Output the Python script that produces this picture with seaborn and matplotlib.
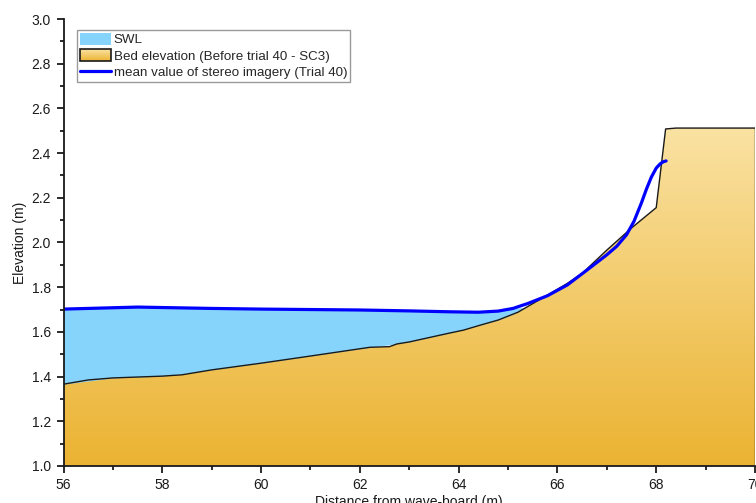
import numpy as np
import matplotlib
matplotlib.use("Agg")
import matplotlib.pyplot as plt
from matplotlib.patches import Polygon, Rectangle
from matplotlib.lines import Line2D
from matplotlib.colors import LinearSegmentedColormap
from matplotlib.legend_handler import HandlerBase
import seaborn as sns

# Bed profile measured before trial 40 (SC3)
bed_x = [56.0, 56.5, 57.0, 58.0, 58.4, 59.0, 60.0, 61.0, 62.2, 62.6, 62.75, 63.0,
         63.8, 64.1, 64.45, 64.8, 65.2, 65.8, 66.2, 66.5, 67.0, 67.5, 68.0,
         68.19, 68.4, 70.0]
bed_y = [1.366, 1.385, 1.394, 1.402, 1.408, 1.43, 1.46, 1.492, 1.531, 1.534, 1.546, 1.555,
         1.594, 1.608, 1.631, 1.653, 1.688, 1.765, 1.817, 1.862, 1.966, 2.065, 2.156,
         2.508, 2.512, 2.512]

# Mean water surface from stereo imagery (trial 40)
stereo_x = [56.0, 57.0, 57.5, 58.0, 59.0, 60.0, 61.0, 62.0, 63.0, 63.8, 64.4, 64.8,
            65.1, 65.4, 65.8, 66.2, 66.6, 67.0, 67.2, 67.4, 67.55, 67.7, 67.8,
            67.9, 68.0, 68.08, 68.14, 68.2]
stereo_y = [1.702, 1.708, 1.711, 1.709, 1.705, 1.702, 1.700, 1.698, 1.694, 1.690, 1.688,
            1.693, 1.705, 1.727, 1.762, 1.810, 1.877, 1.945, 1.983, 2.035, 2.095,
            2.177, 2.238, 2.292, 2.333, 2.352, 2.361, 2.365]

# Still water level
swl_level = 1.711

x_ticks = [56, 58, 60, 62, 64, 66, 68, 70]
y_ticks = [1.0, 1.2, 1.4, 1.6, 1.8, 2.0, 2.2, 2.4, 2.6, 2.8, 3.0]

SWL_COLOR = "#86d4fc"
SAND_TOP = "#fae2a2"
SAND_BOTTOM = "#ebb332"
LINE_BLUE = "#0000ff"

sns.set_theme(style="ticks")
plt.rcParams["font.family"] = ["Liberation Sans", "DejaVu Sans"]
plt.rcParams["axes.linewidth"] = 1.3

fig = plt.figure(figsize=(7.56, 5.03), dpi=100)
ax = fig.add_axes([0.084, 0.0736, 0.9147, 0.8886])

ymin, ymax = 1.0, 3.0
xmin, xmax = 56.0, 70.0

# Sand body: vertical gradient clipped to the bed polygon
sand_cmap = LinearSegmentedColormap.from_list("sand", [SAND_BOTTOM, SAND_TOP])
bed_poly_xy = np.column_stack([bed_x + [bed_x[-1], bed_x[0]], bed_y + [ymin, ymin]])
bed_poly = Polygon(bed_poly_xy, closed=True, facecolor="none", edgecolor="none")
ax.add_patch(bed_poly)
grad = np.linspace(0, 1, 256).reshape(-1, 1)
img = ax.imshow(grad, cmap=sand_cmap, origin="lower", aspect="auto",
                extent=[xmin, xmax, ymin, max(bed_y)], zorder=1)
img.set_clip_path(bed_poly)

# Still water between the bed and the measured surface (below the SWL)
grid = np.array(stereo_x)
bed_on_grid = np.interp(grid, bed_x, bed_y)
water_top = np.minimum(np.array(stereo_y), swl_level)
ax.fill_between(grid, bed_on_grid, water_top, where=water_top >= bed_on_grid,
                interpolate=True, color=SWL_COLOR, linewidth=0, zorder=2)

# Bed outline
sns.lineplot(x=bed_x, y=bed_y, ax=ax, color="#1a1a1a", linewidth=1.0,
             sort=False, zorder=3)
ax.plot([bed_x[-1], bed_x[-1]], [bed_y[-1], ymin], color="#1a1a1a", lw=1.0, zorder=3)

# Stereo mean surface
line = sns.lineplot(x=stereo_x, y=stereo_y, ax=ax, color=LINE_BLUE, linewidth=2.3,
                    sort=False, zorder=4)
ax.lines[-1].set_solid_joinstyle("round")
ax.lines[-1].set_solid_capstyle("round")

ax.set_xlim(xmin, xmax)
ax.set_ylim(ymin, ymax)
ax.set_xticks(x_ticks)
ax.set_yticks(y_ticks)
ax.set_xticklabels([str(t) for t in x_ticks])
ax.set_yticklabels([f"{t:.1f}" for t in y_ticks])
ax.set_xticks(np.arange(57, 70, 2), minor=True)
ax.set_yticks(np.arange(1.1, 3.0, 0.2), minor=True)
ax.tick_params(which="major", direction="out", length=5, width=1.3,
               labelsize=10, colors="#1a1a1a", pad=4)
ax.tick_params(which="minor", direction="out", length=3, width=1.3, colors="#1a1a1a")
for side in ("top", "right"):
    ax.spines[side].set_visible(False)
for side in ("left", "bottom"):
    ax.spines[side].set_color("#1a1a1a")
    ax.spines[side].set_zorder(5)

ax.set_xlabel("Distance from wave-board (m)", fontsize=10, labelpad=2, color="#1a1a1a")
ax.set_ylabel("Elevation (m)", fontsize=10, labelpad=3, color="#1a1a1a")


class GradientHandler(HandlerBase):
    def create_artists(self, legend, orig_handle, xdescent, ydescent,
                       width, height, fontsize, trans):
        artists = []
        n = 12
        for i in range(n):
            c = sand_cmap(1 - (i + 0.5) / n)
            artists.append(Rectangle((-xdescent, -ydescent + height * (n - 1 - i) / n),
                                     width, height / n + 0.2, facecolor=c,
                                     edgecolor="none", transform=trans))
        artists.append(Rectangle((-xdescent, -ydescent), width, height,
                                 facecolor="none", edgecolor="#1a1a1a", lw=1.2,
                                 transform=trans))
        return artists


swl_handle = Rectangle((0, 0), 1, 1, facecolor=SWL_COLOR, edgecolor="none")
bed_handle = Rectangle((0, 0), 1, 1)
line_handle = Line2D([0], [0], color=LINE_BLUE, lw=2.3)
leg = ax.legend([swl_handle, bed_handle, line_handle],
                ["SWL", "Bed elevation (Before trial 40 - SC3)",
                 "mean value of stereo imagery (Trial 40)"],
                handler_map={bed_handle: GradientHandler()},
                loc="upper left", bbox_to_anchor=(0.0195, 0.976),
                borderaxespad=0, fontsize=9.6, frameon=True, fancybox=False,
                edgecolor="#9a9a9a", framealpha=1, borderpad=0.22,
                labelspacing=0.2, handlelength=2.3, handleheight=1.05,
                handletextpad=0.25)
leg.get_frame().set_linewidth(1.0)
leg.set_zorder(6)

fig.savefig("out.png", dpi=100)
